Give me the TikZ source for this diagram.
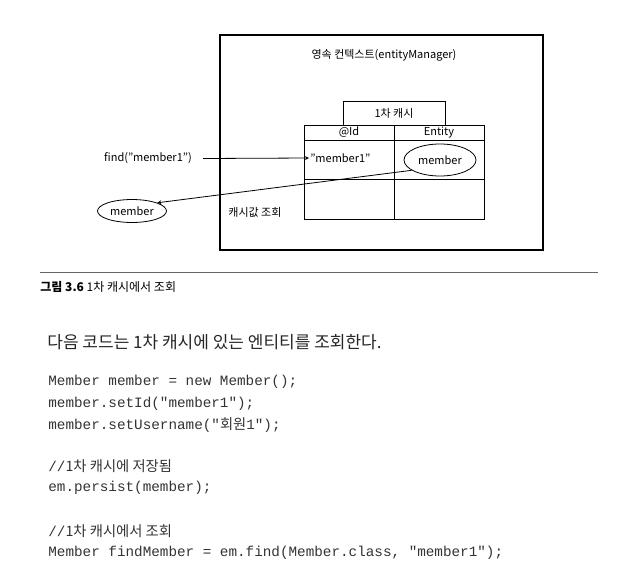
\documentclass[tikz,border=0pt]{standalone}
\usepackage{fontspec}
\setmainfont{Noto Sans CJK KR}
\newfontfamily\cjk{Noto Sans CJK KR}
\newfontfamily\codefont{Liberation Mono}
\usetikzlibrary{shapes.geometric}

\tikzset{
  lbl/.style={font=\fontsize{11}{13}\selectfont, inner sep=1pt},
  obj/.style={ellipse, draw, font=\fontsize{11}{13}\selectfont, inner sep=0pt},
  codeline/.style={anchor=west, inner sep=0pt, text=black!80, font=\codefont\fontsize{14.3}{16}\selectfont},
}

\begin{document}
\begin{tikzpicture}[x=1pt, y=-1pt, line width=0.8pt, >=stealth]
  \useasboundingbox (0,0) rectangle (633,587);

  % persistence context
  \draw[line width=1.1pt] (220,35) rectangle (543,250);
  \node[lbl] (ctx) at (384,55) {영속 컨텍스트(entityManager)};

  % first level cache
  \draw (343,101) rectangle (445,125);
  \node[lbl] (cache) at (394,113) {1차 캐시};
  \draw (304,125) rectangle (484,219);
  \draw (394,125) -- (394,219);
  \draw (304,140) -- (484,140);
  \draw (304,179) -- (484,179);
  \node[lbl] (idhead) at (349,132.5) {@Id};
  \node[lbl] (enthead) at (439,132.5) {Entity};
  \node[lbl, anchor=west] (key) at (309,158) {"member1"};
  \node[obj, minimum width=72pt, minimum height=32pt] (entity) at (440,160) {member};

  % lookup
  \node[lbl] (find) at (148,158) {find("member1")};
  \node[obj, minimum width=69pt, minimum height=23pt] (result) at (132,211) {member};
  \node[lbl, anchor=west] (hit) at (227,212) {캐시값 조회};
  \draw[->] (203,158.5) -- (key.west);
  \draw[->] (entity.200) -- (result.18);

  % caption
  \draw[line width=0.5pt, black!60] (40,272) -- (598,272);
  \node[anchor=west, inner sep=0pt, font=\fontsize{12}{14}\selectfont] (caption) at (40,287)
    {\textbf{그림 3.6} 1차 캐시에서 조회};

  % body text
  \node[anchor=west, inner sep=0pt, text=black!85, font=\fontsize{17}{19}\selectfont] (body) at (47,342)
    {다음 코드는 1차 캐시에 있는 엔티티를 조회한다.};

  \node[codeline] (c1) at (48,382) {Member member = new Member();};
  \node[codeline] (c2) at (48,404) {member.setId("member1");};
  \node[codeline] (c3) at (48,425) {member.setUsername("{\cjk 회원}1");};
  \node[codeline] (c4) at (48,466) {//{\cjk 1차 캐시에 저장됨}};
  \node[codeline] (c5) at (48,488) {em.persist(member);};
  \node[codeline] (c6) at (48,531) {//{\cjk 1차 캐시에서 조회}};
  \node[codeline] (c7) at (48,553) {Member findMember = em.find(Member.class, "member1");};
\end{tikzpicture}
\end{document}
